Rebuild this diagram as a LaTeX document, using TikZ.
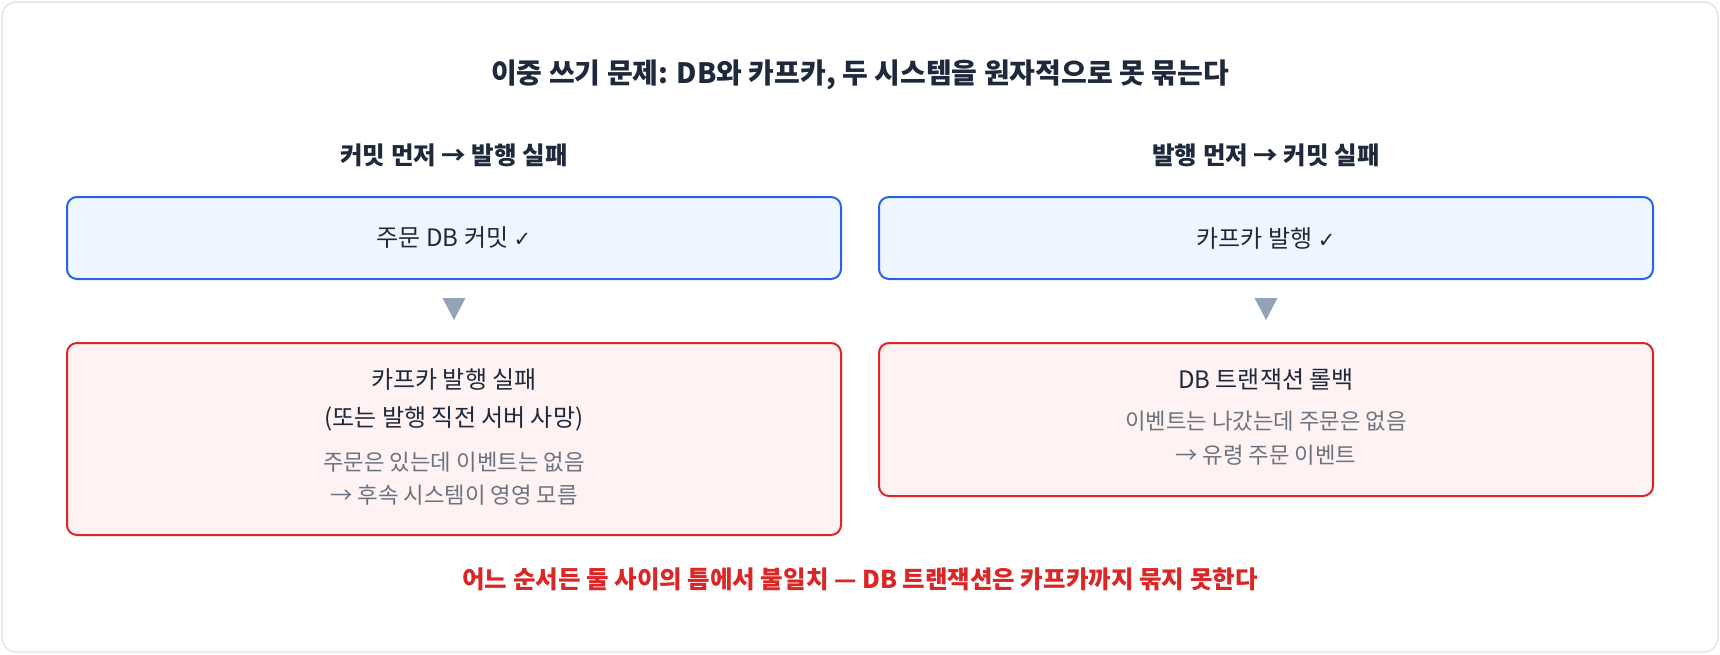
\documentclass[tikz,border=0pt]{standalone}
\usepackage{fontspec}
\setmainfont{Noto Sans CJK KR}
\newfontfamily\symfont{DejaVu Sans}
\usetikzlibrary{calc}
\definecolor{inkdark}{HTML}{1E293B}
\definecolor{inkgray}{HTML}{6B7280}
\definecolor{frameline}{HTML}{E5E7EB}
\definecolor{okline}{HTML}{2563EB}
\definecolor{okfill}{HTML}{EFF6FF}
\definecolor{badline}{HTML}{DC2626}
\definecolor{badfill}{HTML}{FEF2F2}
\definecolor{tipgray}{HTML}{94A3B8}

\begin{document}
\begin{tikzpicture}[x=1pt,y=-1pt,
  titletext/.style={text=inkdark,font=\fontsize{28}{32}\bfseries},
  headtext/.style={text=inkdark,font=\fontsize{24.5}{29}\bfseries},
  maintext/.style={text=inkdark,font=\fontsize{24}{28}\selectfont,inner sep=0pt},
  subtext/.style={text=inkgray,font=\fontsize{22.3}{26}\selectfont,inner sep=0pt},
  okbox/.style={draw=okline,fill=okfill,line width=2pt,rounded corners=10pt,
    minimum width=774pt,minimum height=82pt,text=inkdark,font=\fontsize{24}{28}\selectfont},
  badbox/.style={draw=badline,fill=badfill,line width=2pt,rounded corners=10pt,
    minimum width=774pt},
  downtip/.style={fill=tipgray},
  warntext/.style={text=badline,font=\fontsize{24.5}{29}\bfseries}]
\useasboundingbox (0,0) rectangle (1720,654);
\fill[white] (0,0) rectangle (1720,654);
\draw[frameline,line width=1.5pt,rounded corners=14pt] (2,2) rectangle (1718,652);

\node[titletext] (title) at (860,75) {이중 쓰기 문제: DB와 카프카, 두 시스템을 원자적으로 못 묶는다};

% left: commit first
\node[headtext] (headL) at (454,155) {커밋 먼저 → 발행 실패};
\node[okbox] (commit) at (454,238) {주문 DB 커밋 {\symfont\fontsize{21}{24}\selectfont ✓}};
\fill[downtip] ($(commit.south)+(-11.5,18)$) -- ++(23,0) -- ++(-11.5,22) -- cycle;
\node[badbox,minimum height=192pt] (pubfail) at (454,439) {};
\node[maintext] (pubfailA) at (454,380) {카프카 발행 실패};
\node[maintext] (pubfailB) at (454,419) {(또는 발행 직전 서버 사망)};
\node[subtext] (pubfailC) at (454,462) {주문은 있는데 이벤트는 없음};
\node[subtext] (pubfailD) at (454,495) {→ 후속 시스템이 영영 모름};

% right: publish first
\node[headtext] (headR) at (1266,155) {발행 먼저 → 커밋 실패};
\node[okbox] (publish) at (1266,238) {카프카 발행 {\symfont\fontsize{21}{24}\selectfont ✓}};
\fill[downtip] ($(publish.south)+(-11.5,18)$) -- ++(23,0) -- ++(-11.5,22) -- cycle;
\node[badbox,minimum height=153pt] (rollback) at (1266,419.5) {};
\node[maintext] (rollbackA) at (1266,380) {DB 트랜잭션 롤백};
\node[subtext] (rollbackB) at (1266,421) {이벤트는 나갔는데 주문은 없음};
\node[subtext] (rollbackC) at (1266,455) {→ 유령 주문 이벤트};

\node[warntext] (gap) at (860,579) {어느 순서든 둘 사이의 틈에서 불일치 — DB 트랜잭션은 카프카까지 묶지 못한다};
\end{tikzpicture}
\end{document}
